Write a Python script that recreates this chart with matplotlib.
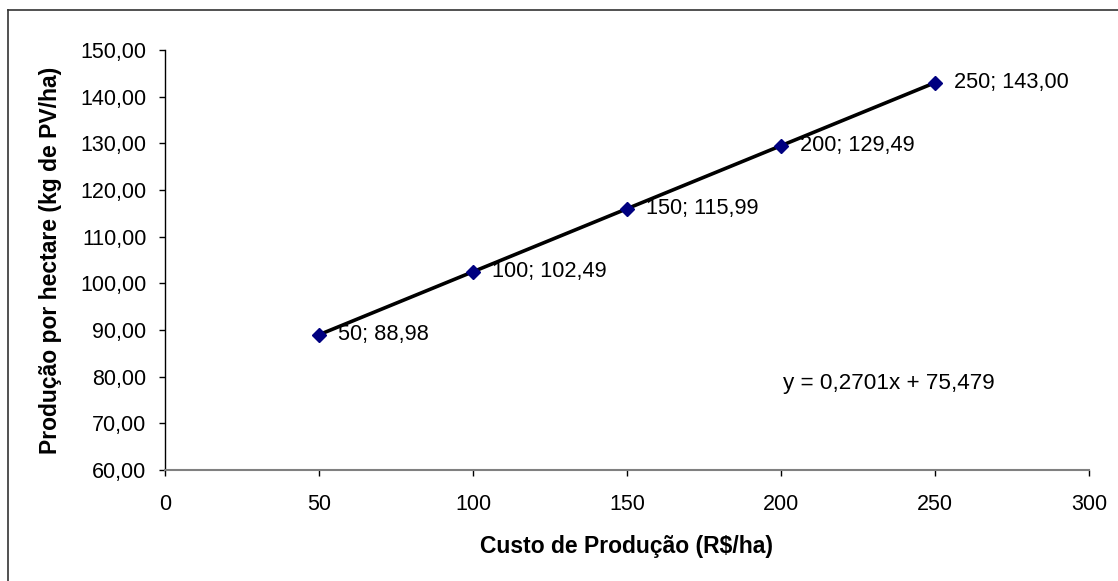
import matplotlib
matplotlib.use("Agg")
import matplotlib.pyplot as plt
import numpy as np
from matplotlib.ticker import FuncFormatter, MultipleLocator
from matplotlib.lines import Line2D

plt.rcParams['font.family'] = ['Liberation Sans', 'DejaVu Sans']

custo = [50, 100, 150, 200, 250]
producao = [88.98, 102.49, 115.99, 129.49, 143.00]
labels = ["50; 88,98", "100; 102,49", "150; 115,99", "200; 129,49", "250; 143,00"]
equation = "y = 0,2701x + 75,479"

fig = plt.figure(figsize=(11.18, 5.81), dpi=100)
ax = fig.add_axes([165/1118, 1-470/581, (1089-165)/1118, (470-50)/581])

# trend line from linear fit of data
coef = np.polyfit(custo, producao, 1)
xs = np.array([min(custo), max(custo)])
ax.plot(xs, np.polyval(coef, xs), color='black', lw=2.6, zorder=2)
ax.plot(custo, producao, linestyle='none', marker='D', markersize=6.8,
        color='#000080', zorder=3)

for x, y, t in zip(custo, producao, labels):
    ax.annotate(t, (x, y), xytext=(14, 0), textcoords='offset points',
                va='center', ha='left', fontsize=15.7)

ax.text(200.6, 78.6, equation, ha='left', va='center', fontsize=16.2)

ax.set_xlim(0, 300)
ax.set_ylim(60, 150)
ax.xaxis.set_major_locator(MultipleLocator(50))
ax.yaxis.set_major_locator(MultipleLocator(10))
ax.yaxis.set_major_formatter(FuncFormatter(lambda v, p: f"{v:.2f}".replace('.', ',')))

for s in ['top', 'right']:
    ax.spines[s].set_visible(False)
ax.spines['bottom'].set_color('#808080')
ax.spines['bottom'].set_linewidth(1.5)
ax.spines['left'].set_color('black')
ax.spines['left'].set_linewidth(1.0)

ax.tick_params(axis='both', direction='out', length=4, width=1, labelsize=15.5, colors='black')
ax.tick_params(axis='y', pad=9.5)
ax.tick_params(axis='x', pad=13)

ax.set_xlabel("Custo de Produção (R$/ha)", fontsize=16.5, fontweight='bold')
ax.set_ylabel("Produção por hectare (kg de PV/ha)", fontsize=16.5, fontweight='bold')
ax.xaxis.set_label_coords(0.5, -0.155)
ax.yaxis.set_label_coords(-0.112, 0.5)

# outer chart border (left and top visible)
fx = 8/1118
fy = 1 - 10/581
fig.add_artist(Line2D([fx, fx], [fy, 0], transform=fig.transFigure, color='#333333', lw=1.2))
fig.add_artist(Line2D([fx, 1], [fy, fy], transform=fig.transFigure, color='#333333', lw=1.2))

fig.savefig("out.png", dpi=100)
